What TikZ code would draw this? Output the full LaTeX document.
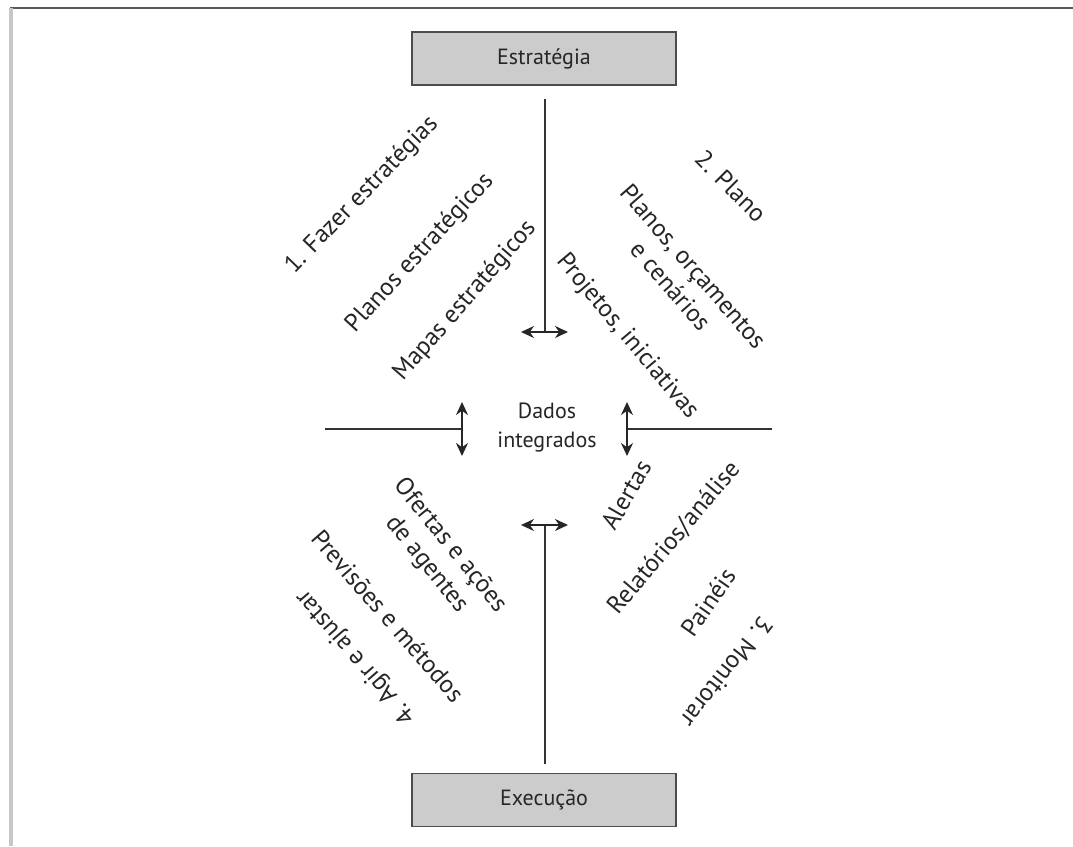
\documentclass[tikz,border=0pt]{standalone}
\usepackage{fontspec}
\setmainfont{PT Sans}
\usetikzlibrary{arrows.meta}
\begin{document}
\begin{tikzpicture}[x=1pt,y=-1pt,
  lbl/.style={font=\fontsize{25}{30}\selectfont, text=black!85, inner sep=0pt, align=center},
  mid/.style={font=\fontsize{22}{29}\selectfont, text=black!85, inner sep=0pt, align=center},
  box/.style={draw=black!70, fill=black!20, line width=1.8pt, minimum width=264pt,
    minimum height=53pt, inner sep=0pt, font=\fontsize{22}{26}\selectfont, text=black!85},
  axis/.style={draw=black!80, line width=1.6pt},
  dbl/.style={draw=black!85, line width=1.4pt, {Stealth[length=13pt,width=12pt]}-{Stealth[length=13pt,width=12pt]}}]
  \useasboundingbox (0,0) rectangle (1073,846);
  \fill[white] (0,0) rectangle (1073,846);

  % frame lines
  \draw[black!65, line width=2.6pt] (10,8) -- (1073,8);
  \draw[black!22, line width=3.5pt] (11,8) -- (11,846);

  % level boxes
  \node[box] (est) at (544,58.5) {Estratégia};
  \node[box] (exe) at (544,800) {Execução};

  % central axes and their double arrows
  \coordinate (topS) at (545,99);
  \coordinate (topC) at (545,332);
  \coordinate (topL) at (521,332);
  \coordinate (topR) at (568,332);
  \coordinate (botS) at (545,764);
  \coordinate (botC) at (545,525);
  \coordinate (botL) at (521,525);
  \coordinate (botR) at (568,525);
  \coordinate (lftS) at (325,429);
  \coordinate (lftC) at (462,429);
  \coordinate (lftU) at (462,402);
  \coordinate (lftD) at (462,456);
  \coordinate (rgtS) at (772,429);
  \coordinate (rgtC) at (627,429);
  \coordinate (rgtU) at (627,402);
  \coordinate (rgtD) at (627,456);

  \draw[axis] (topS) -- (topC);
  \draw[dbl] (topL) -- (topR);
  \draw[axis] (botS) -- (botC);
  \draw[dbl] (botL) -- (botR);
  \draw[axis] (lftS) -- (lftC);
  \draw[dbl] (lftU) -- (lftD);
  \draw[axis] (rgtS) -- (rgtC);
  \draw[dbl] (rgtU) -- (rgtD);

  % centre
  \node[mid] (dados) at (547,428) {Dados\\integrados};

  % quadrant 1
  \node[lbl, rotate=46] (q1a) at (362,195) {1. Fazer estratégias};
  \node[lbl, rotate=47.5] (q1b) at (420,253) {Planos estratégicos};
  \node[lbl, rotate=49] (q1c) at (465,301) {Mapas estratégicos};

  % quadrant 2
  \node[lbl, rotate=-45] (q2a) at (731,186) {2. Plano};
  \node[lbl, rotate=-49] (q2b) at (682,276) {Planos, orçamentos\\e cenários};
  \node[lbl, rotate=-50] (q2c) at (627,337) {Projetos, iniciativas};

  % quadrant 3
  \node[lbl, rotate=60] (q3a) at (626,495) {Alertas};
  \node[lbl, rotate=50] (q3b) at (674,538) {Relatórios/análise};
  \node[lbl, rotate=55] (q3c) at (708,602) {Painéis};
  \node[lbl, rotate=-128] (q3d) at (727,672) {3. Monitorar};

  % quadrant 4
  \node[lbl, rotate=-51] (q4a) at (438,555) {Ofertas e ações\\de agentes};
  \node[lbl, rotate=-49] (q4b) at (388,616) {Previsões e métodos};
  \node[lbl, rotate=131] (q4c) at (356,657) {4. Agir e ajustar};
\end{tikzpicture}
\end{document}
